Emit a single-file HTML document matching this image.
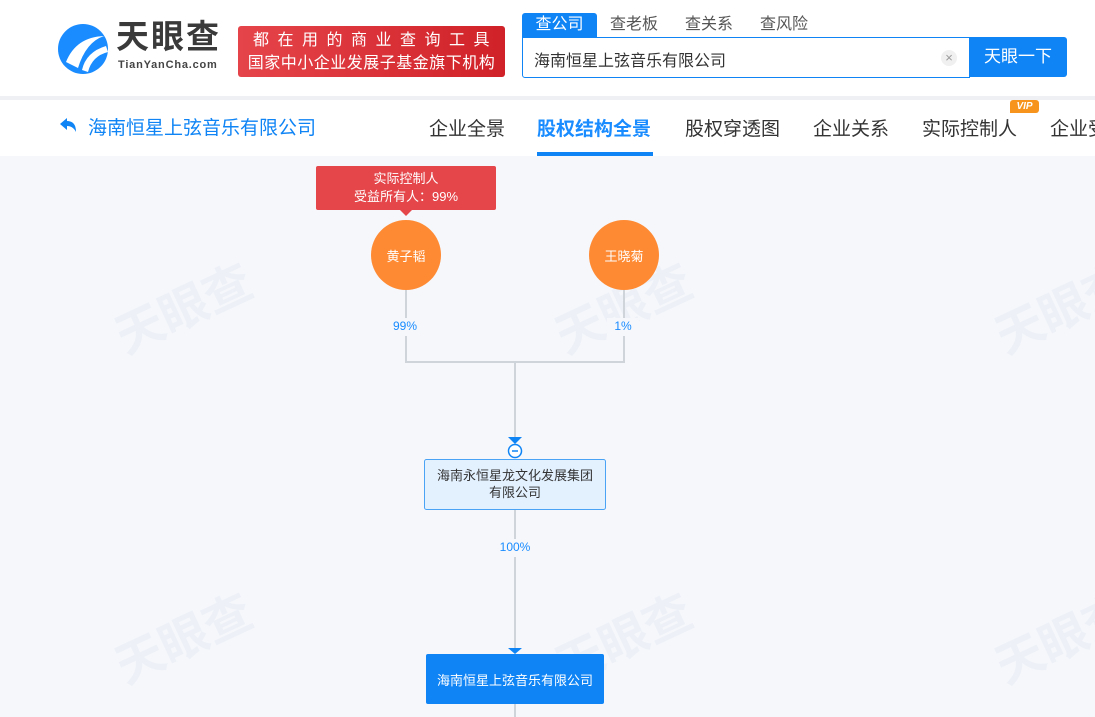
<!DOCTYPE html>
<html><head><meta charset="utf-8"><style>
*{margin:0;padding:0;box-sizing:border-box}
body{width:1095px;height:717px;overflow:hidden;background:#f5f7fb;font-family:"Liberation Sans","Noto Sans CJK SC",sans-serif;position:relative}
.a{position:absolute;white-space:nowrap}
</style></head><body>
<div class="a" style="left:0;top:0;width:1095px;height:96px;background:#fff"></div>
<div class="a" style="left:0;top:96px;width:1095px;height:4px;background:#eef0f3"></div>
<div class="a" style="left:0;top:100px;width:1095px;height:56px;background:#fff"></div>
<!-- logo -->
<svg class="a" style="left:56px;top:22px" width="54" height="54" viewBox="0 0 54 54">
<circle cx="27" cy="27" r="25" fill="#1a8cff"/>
<path d="M10 40 Q20 15 48 14 Q30 20 22 46 Z" fill="#fff"/>
<path d="M26 48 Q30 30 50 24 L52 30 Q36 34 32 50Z" fill="#fff"/>
</svg>
<div class="a" style="left:116px;top:18px;font-size:33px;line-height:38px;font-weight:bold;color:#3a3a3a;letter-spacing:2px">天眼查</div>
<div class="a" style="left:118px;top:59px;font-size:11px;font-weight:bold;color:#444;letter-spacing:0.8px">TianYanCha.com</div>
<div class="a" style="left:238px;top:26px;width:267px;height:51px;background:linear-gradient(90deg,#e5454a,#d02128);border-radius:3px;color:#fff;font-size:16px;text-align:center;line-height:23px;padding-top:3px">
<div style="letter-spacing:8.5px;padding-left:8px">都在用的商业查询工具</div><div style="letter-spacing:0.5px">国家中小企业发展子基金旗下机构</div></div>
<!-- search -->
<div class="a" style="left:522px;top:13px;width:75px;height:25px;background:#0f84f5;border-radius:3px 3px 0 0;color:#fff;font-size:16px;text-align:center;line-height:24px">查公司</div>
<div class="a" style="left:610px;top:13px;font-size:16px;color:#555;line-height:24px">查老板</div>
<div class="a" style="left:685px;top:13px;font-size:16px;color:#555;line-height:24px">查关系</div>
<div class="a" style="left:760px;top:13px;font-size:16px;color:#555;line-height:24px">查风险</div>
<div class="a" style="left:522px;top:37px;width:448px;height:41px;border:1.5px solid #0f84f5;border-radius:0 0 0 3px;background:#fff"></div>
<div class="a" style="left:534px;top:47px;font-size:16px;color:#333">海南恒星上弦音乐有限公司</div>
<div class="a" style="left:941px;top:50px;width:16px;height:16px;border-radius:50%;background:#f0f0f0;color:#999;font-size:13px;text-align:center;line-height:16px">×</div>
<div class="a" style="left:969px;top:37px;width:98px;height:40px;background:#0f84f5;border-radius:0 3px 3px 0;color:#fff;font-size:17px;text-align:center;line-height:40px">天眼一下</div>
<!-- nav -->
<svg class="a" style="left:59px;top:116px" width="18" height="18" viewBox="0 0 18 18"><path d="M1 8 L8 2 L8 5 Q17 5 17 16 Q14 10 8 10 L8 14 Z" fill="#0f84f5"/></svg>
<div class="a" style="left:88px;top:113px;font-size:19px;color:#0f84f5">海南恒星上弦音乐有限公司</div>
<div class="a" style="left:429px;top:114px;font-size:19px;color:#333">企业全景</div>
<div class="a" style="left:537px;top:114px;font-size:19px;color:#1a8cff;font-weight:bold">股权结构全景</div>
<div class="a" style="left:537px;top:152px;width:116px;height:4px;background:#0f84f5"></div>
<div class="a" style="left:685px;top:114px;font-size:19px;color:#333">股权穿透图</div>
<div class="a" style="left:813px;top:114px;font-size:19px;color:#333">企业关系</div>
<div class="a" style="left:922px;top:114px;font-size:19px;color:#333">实际控制人</div>
<div class="a" style="left:1010px;top:100px;width:29px;height:13px;background:#f7941d;border-radius:3px 3px 3px 0;color:#fff;font-size:10px;font-weight:bold;font-style:italic;text-align:center;line-height:13px">VIP</div>
<div class="a" style="left:1050px;top:114px;font-size:19px;color:#333">企业受</div>
<!-- watermarks -->
<div class="a" style="left:110px;top:270px;font-size:48px;font-weight:bold;color:#edf1f7;transform:rotate(-25deg)">天眼查</div>
<div class="a" style="left:550px;top:270px;font-size:48px;font-weight:bold;color:#edf1f7;transform:rotate(-25deg)">天眼查</div>
<div class="a" style="left:990px;top:270px;font-size:48px;font-weight:bold;color:#edf1f7;transform:rotate(-25deg)">天眼查</div>
<div class="a" style="left:110px;top:600px;font-size:48px;font-weight:bold;color:#edf1f7;transform:rotate(-25deg)">天眼查</div>
<div class="a" style="left:550px;top:600px;font-size:48px;font-weight:bold;color:#edf1f7;transform:rotate(-25deg)">天眼查</div>
<div class="a" style="left:990px;top:600px;font-size:48px;font-weight:bold;color:#edf1f7;transform:rotate(-25deg)">天眼查</div>
<!-- diagram -->
<svg class="a" style="left:0;top:0" width="1095" height="717">
<g stroke="#cfd3da" stroke-width="2" fill="none">
<path d="M406 290 V362 H624 V290"/>
<path d="M515 362 V440"/>
<path d="M515 510 V650"/>
<path d="M515 704 V717"/>
</g>
<rect x="316" y="166" width="180" height="44" rx="2" fill="#e4464a"/>
<path d="M400 210 L406 216 L412 210Z" fill="#e4464a"/>
<circle cx="406" cy="255" r="35" fill="#fe8a33"/>
<circle cx="624" cy="255" r="35" fill="#fe8a33"/>
<rect x="385" y="318" width="40" height="18" fill="#f5f7fb"/>
<rect x="607" y="318" width="32" height="18" fill="#f5f7fb"/>
<rect x="490" y="539" width="50" height="18" fill="#f5f7fb"/>
<path d="M508 437 H522 L515 444Z" fill="#0f84f5"/>
<circle cx="515" cy="451" r="6.5" fill="#fff" stroke="#0f84f5" stroke-width="1.5"/>
<path d="M512 451 H518" stroke="#0f84f5" stroke-width="1.5"/>
<rect x="424.5" y="459.5" width="181" height="50" rx="2" fill="#e3f1ff" stroke="#4aa3f5"/>
<path d="M508 648 H522 L515 654Z" fill="#0f84f5"/>
<rect x="426" y="654" width="178" height="50" rx="2" fill="#0f84f5"/>
</svg>
<div class="a" style="left:316px;top:170px;width:180px;text-align:center;color:#fff;font-size:13px;line-height:18px">实际控制人<br>受益所有人：99%</div>
<div class="a" style="left:371px;top:246px;width:70px;text-align:center;color:#fff;font-size:13px">黄子韬</div>
<div class="a" style="left:589px;top:246px;width:70px;text-align:center;color:#fff;font-size:13px">王晓菊</div>
<div class="a" style="left:385px;top:319px;width:40px;text-align:center;color:#1a8cff;font-size:12px">99%</div>
<div class="a" style="left:607px;top:319px;width:32px;text-align:center;color:#1a8cff;font-size:12px">1%</div>
<div class="a" style="left:490px;top:540px;width:50px;text-align:center;color:#1a8cff;font-size:12px">100%</div>
<div class="a" style="left:424px;top:467px;width:182px;text-align:center;color:#333;font-size:13px;line-height:17px;white-space:normal">海南永恒星龙文化发展集团<br>有限公司</div>
<div class="a" style="left:426px;top:670px;width:178px;text-align:center;color:#fff;font-size:13px">海南恒星上弦音乐有限公司</div>
</body></html>
